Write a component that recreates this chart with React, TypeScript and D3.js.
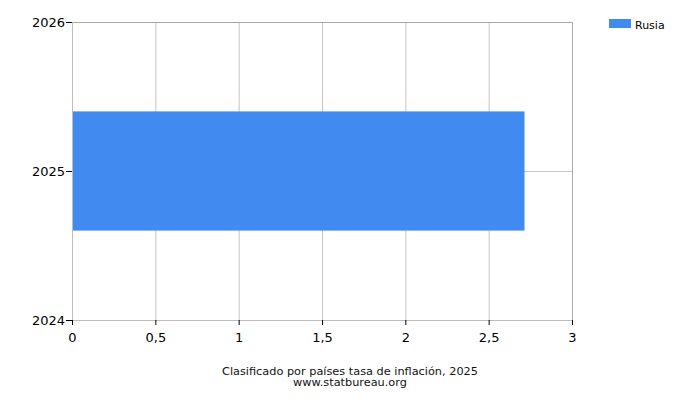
import React, { useRef, useEffect } from "react";
import * as d3 from "d3";

const countries = ["Rusia"];
const years = [2025];
const inflation = [2.715];
const xTicks = [0, 0.5, 1, 1.5, 2, 2.5, 3];
const yTicks = [2024, 2025, 2026];
const colors = ["#418bf0"];

const chartTitle = "Clasificado por países tasa de inflación, 2025";
const sourceText = "www.statbureau.org";

const width = 700;
const height = 400;
const margin = { top: 22, right: 128, bottom: 80, left: 72 };

export default function App() {
  const svgRef = useRef<SVGSVGElement>(null);

  useEffect(() => {
    if (!svgRef.current) return;
    const svg = d3.select(svgRef.current);
    svg.selectAll("*").remove();

    const x0 = margin.left;
    const x1 = width - margin.right;
    const y0 = height - margin.bottom;
    const y1 = margin.top;

    const x = d3.scaleLinear().domain([0, 3]).range([x0, x1]);
    const y = d3.scaleLinear().domain([2024, 2026]).range([y0, y1]);

    const font = "DejaVu Sans, sans-serif";

    // vertical grid lines
    svg.append("g")
      .selectAll("line")
      .data(xTicks.slice(1, -1))
      .enter()
      .append("line")
      .attr("x1", d => x(d) + 0.5)
      .attr("x2", d => x(d) + 0.5)
      .attr("y1", y1)
      .attr("y2", y0)
      .attr("stroke", "#c4c4c4")
      .attr("stroke-width", 1);

    // horizontal grid lines
    svg.append("g")
      .selectAll("line")
      .data(yTicks.slice(1, -1))
      .enter()
      .append("line")
      .attr("x1", x0)
      .attr("x2", x1)
      .attr("y1", d => Math.round(y(d)) + 0.5)
      .attr("y2", d => Math.round(y(d)) + 0.5)
      .attr("stroke", "#c4c4c4")
      .attr("stroke-width", 1);

    // bars
    svg.append("g")
      .selectAll("rect")
      .data(inflation)
      .enter()
      .append("rect")
      .attr("x", x(0))
      .attr("y", (_, i) => y(years[i] + 0.4))
      .attr("width", d => x(d) - x(0))
      .attr("height", (_, i) => y(years[i] - 0.4) - y(years[i] + 0.4))
      .attr("fill", (_, i) => colors[i]);

    // frame
    svg.append("line")
      .attr("x1", x0).attr("x2", x1 + 0.5)
      .attr("y1", y1 + 0.5).attr("y2", y1 + 0.5)
      .attr("stroke", "#a8a8a8");
    svg.append("line")
      .attr("x1", x1 + 0.5).attr("x2", x1 + 0.5)
      .attr("y1", y1).attr("y2", y0)
      .attr("stroke", "#a8a8a8");
    svg.append("line")
      .attr("x1", x0 + 0.5).attr("x2", x0 + 0.5)
      .attr("y1", y1).attr("y2", y0)
      .attr("stroke", "#bdbdbd");
    svg.append("line")
      .attr("x1", x0).attr("x2", x1 + 0.5)
      .attr("y1", y0 + 0.5).attr("y2", y0 + 0.5)
      .attr("stroke", "#bdbdbd");

    // x axis ticks and labels
    const xg = svg.append("g");
    xTicks.forEach(t => {
      xg.append("line")
        .attr("x1", x(t) + 0.5).attr("x2", x(t) + 0.5)
        .attr("y1", y0).attr("y2", y0 + 5)
        .attr("stroke", "#000");
      xg.append("text")
        .attr("x", x(t) + 0.5)
        .attr("y", y0 + 22)
        .attr("text-anchor", "middle")
        .attr("font-family", font)
        .attr("font-size", 13)
        .attr("fill", "#000")
        .text(String(t).replace(".", ","));
    });

    // y axis ticks and labels
    const yg = svg.append("g");
    yTicks.forEach(t => {
      yg.append("line")
        .attr("x1", x0 - 6).attr("x2", x0)
        .attr("y1", Math.round(y(t)) + 0.5).attr("y2", Math.round(y(t)) + 0.5)
        .attr("stroke", "#000");
      yg.append("text")
        .attr("x", x0 - 7)
        .attr("y", y(t) + 5)
        .attr("text-anchor", "end")
        .attr("font-family", font)
        .attr("font-size", 13)
        .attr("fill", "#000")
        .text(t);
    });

    // legend
    const lg = svg.append("g").attr("transform", "translate(609,19)");
    countries.forEach((c, i) => {
      lg.append("rect")
        .attr("x", 0).attr("y", i * 18)
        .attr("width", 22).attr("height", 9)
        .attr("fill", colors[i]);
      lg.append("text")
        .attr("x", 26).attr("y", i * 18 + 10)
        .attr("font-family", font)
        .attr("font-size", 11)
        .attr("fill", "#000")
        .text(c);
    });

    // title
    svg.append("text")
      .attr("x", 350).attr("y", 375)
      .attr("text-anchor", "middle")
      .attr("font-family", font)
      .attr("font-size", 11.3)
      .attr("fill", "#111")
      .text(chartTitle);
    svg.append("text")
      .attr("x", 350).attr("y", 386)
      .attr("text-anchor", "middle")
      .attr("font-family", font)
      .attr("font-size", 11.3)
      .attr("fill", "#111")
      .text(sourceText);
  }, []);

  return (
    <div style={{ position: "absolute", left: 0, top: 0, width, height, background: "#fff" }}>
      <svg ref={svgRef} width={width} height={height} style={{ display: "block" }} />
    </div>
  );
}
